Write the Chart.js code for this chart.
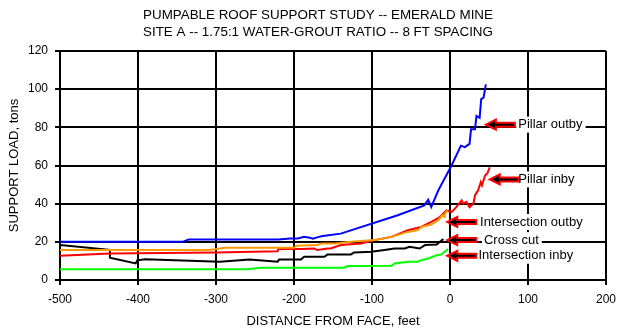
<!DOCTYPE html>
<html>
<head>
<meta charset="utf-8">
<script src="https://cdn.jsdelivr.net/npm/chart.js@4"></script>
<style>
  html, body { margin: 0; padding: 0; background: #fff; }
  #wrap { width: 618px; height: 331px; }
</style>
</head>
<body>
<div id="wrap"><canvas id="chart" width="618" height="331"></canvas></div>
<script>
// distance from face (ft) and support load (tons) for each gauge
const pillarOutbyDist = [-500, -343, -335, -220, -205, -195, -187, -180, -176, -168, -163, -140, -67, -33, -28, -24, -15, 2, 14, 19, 25, 27, 32, 34, 38, 40, 43, 46];
const pillarOutbyLoad = [20, 20, 21.2, 21.2, 21.8, 21.8, 22.6, 22.2, 21.7, 22.6, 23.1, 24.3, 33.9, 39.1, 42, 38.3, 47, 60, 70.4, 69.6, 71.3, 79, 79, 86, 85, 94.8, 95.6, 102.5];

const pillarInbyDist = [-500, -436, -300, -221, -220, -190, -174, -170, -157, -153, -140, -114, -97, -75, -54, -37, -24, -13, -4.5, 2, 8, 15, 17, 21, 25, 30, 32, 36, 39.5, 41, 45, 48, 51];
const pillarInbyLoad = [12.7, 13.9, 14.4, 15.1, 16.2, 16.2, 16.5, 15.7, 16.5, 16.5, 18.3, 19.1, 20.9, 22.6, 26.1, 27.8, 30.4, 33, 36.5, 35.6, 38.2, 41.7, 40, 40.9, 38.2, 40, 44.3, 47, 51.3, 49.6, 54.8, 56, 59];

const isecOutbyDist = [-500, -309, -288, -200, -197, -170, -165, -148, -127, -97, -75, -54, -41, -37, -24, -15, -10, -7.5, -6.7, -3];
const isecOutbyLoad = [15.7, 15.7, 16.9, 16.9, 18, 18.3, 19.1, 19.1, 20, 20.9, 22.6, 25.2, 26.1, 27.8, 29, 31.3, 33.9, 33, 34.8, 36.5];

const crossCutDist = [-500, -436, -436, -403, -401, -391, -295, -257, -221, -219, -191, -187, -161, -157, -127, -123, -101, -84, -71, -58, -52, -39, -32, -17, -13, -8.5];
const crossCutLoad = [18.3, 15.8, 11.7, 8.7, 10.3, 10.9, 9.6, 10.8, 9.6, 10.8, 10.8, 12.2, 12.2, 13.4, 13.4, 14.4, 14.8, 15.7, 16.5, 16.5, 17.4, 16.5, 18.3, 18.6, 20, 21.4];

const isecInbyDist = [-500, -260, -243, -136, -131, -75, -71, -54, -41, -37, -28, -22, -17, -11, -7, -2.5];
const isecInbyLoad = [5.6, 5.6, 6.4, 6.4, 7.3, 7.5, 8.7, 9.6, 9.6, 10.4, 11.3, 12.2, 13, 13.4, 14.8, 16.2];

// callout labels: arrow tip (x, y) and where the text starts (x)
const calloutText = ['Pillar outby', 'Pillar inby', 'Intersection outby', 'Cross cut', 'Intersection inby'];
const calloutTipX = [46, 51, -3.5, -3.5, -3.5];
const calloutTipY = [81.4, 52.7, 30.4, 20.9, 12.7];
const calloutTextX = [87.5, 87.5, 38.5, 43.5, 36.5];

const xTicks = [-500, -400, -300, -200, -100, 0, 100, 200];
const yTicks = [0, 20, 40, 60, 80, 100, 120];

const FONT = "'Liberation Sans', Arial, sans-serif";

const pairs = (xs, ys) => xs.map((x, i) => ({ x, y: ys[i] }));

const line = (label, xs, ys, color) => ({
  label,
  data: pairs(xs, ys),
  borderColor: color,
  backgroundColor: color,
  borderWidth: 2,
  pointRadius: 0,
  tension: 0,
  fill: false,
});

// title drawn by hand so it can sit a little left of the plot centre like the original
const titlePlugin = {
  id: 'twoLineTitle',
  afterDraw(chart) {
    const ctx = chart.ctx;
    ctx.save();
    ctx.fillStyle = '#000';
    ctx.font = '13.4px ' + FONT;
    ctx.textAlign = 'center';
    ctx.textBaseline = 'middle';
    ctx.fillText('PUMPABLE ROOF SUPPORT STUDY -- EMERALD MINE', 318, 15);
    ctx.fillText('SITE A -- 1.75:1 WATER-GROUT RATIO -- 8 FT SPACING', 318, 32);
    ctx.restore();
  },
};

// red-outlined black arrows with white-boxed labels
const calloutPlugin = {
  id: 'callouts',
  afterDatasetsDraw(chart) {
    const { ctx, scales: { x, y } } = chart;
    ctx.save();
    ctx.font = '13px ' + FONT;
    ctx.textBaseline = 'middle';
    calloutText.forEach((txt, i) => {
      const tx = x.getPixelForValue(calloutTipX[i]);
      const ty = y.getPixelForValue(calloutTipY[i]);
      const lx = x.getPixelForValue(calloutTextX[i]);
      const w = ctx.measureText(txt).width;

      ctx.fillStyle = '#fff';
      ctx.fillRect(lx - 2, ty - 8, w + 5, 16);

      ctx.beginPath();
      ctx.moveTo(tx, ty);
      ctx.lineTo(tx + 10, ty - 5);
      ctx.lineTo(tx + 10, ty - 2);
      ctx.lineTo(tx + 29, ty - 2);
      ctx.lineTo(tx + 29, ty + 2);
      ctx.lineTo(tx + 10, ty + 2);
      ctx.lineTo(tx + 10, ty + 5);
      ctx.closePath();
      ctx.fillStyle = '#000';
      ctx.fill();
      ctx.strokeStyle = '#ff0000';
      ctx.lineWidth = 2;
      ctx.lineJoin = 'miter';
      ctx.stroke();

      ctx.fillStyle = '#000';
      ctx.fillText(txt, lx, ty);
    });
    ctx.restore();
  },
};

new Chart(document.getElementById('chart'), {
  type: 'line',
  data: {
    datasets: [
      line('Pillar outby', pillarOutbyDist, pillarOutbyLoad, '#0000ff'),
      line('Intersection outby', isecOutbyDist, isecOutbyLoad, '#ff9900'),
      line('Pillar inby', pillarInbyDist, pillarInbyLoad, '#ff0000'),
      line('Cross cut', crossCutDist, crossCutLoad, '#000000'),
      line('Intersection inby', isecInbyDist, isecInbyLoad, '#00ff00'),
    ],
  },
  options: {
    responsive: false,
    animation: false,
    layout: { padding: { top: 51, right: 12, bottom: 0, left: 0 } },
    plugins: {
      legend: { display: false },
      title: { display: false },
      tooltip: { enabled: false },
    },
    scales: {
      x: {
        type: 'linear',
        min: -500,
        max: 200,
        afterBuildTicks: (s) => { s.ticks = xTicks.map((v) => ({ value: v })); },
        afterFit: (s) => { s.height = 51; s.paddingLeft = 0; s.paddingRight = 0; },
        grid: { color: '#000', lineWidth: 2, tickLength: 5 },
        border: { color: '#000', width: 2 },
        ticks: { color: '#000', font: { family: FONT, size: 12 }, padding: 7, maxRotation: 0 },
        title: {
          display: true,
          text: 'DISTANCE FROM FACE, feet',
          color: '#000',
          font: { family: FONT, size: 13 },
          padding: { top: 0, bottom: 2 },
        },
      },
      y: {
        min: 0,
        max: 120,
        afterBuildTicks: (s) => { s.ticks = yTicks.map((v) => ({ value: v })); },
        afterFit: (s) => { s.width = 60; s.paddingTop = 0; s.paddingBottom = 0; },
        grid: { color: '#000', lineWidth: 2, tickLength: 5 },
        border: { color: '#000', width: 2 },
        ticks: { color: '#000', font: { family: FONT, size: 12 }, padding: 7 },
        title: {
          display: true,
          text: 'SUPPORT LOAD, tons',
          color: '#000',
          font: { family: FONT, size: 13 },
          padding: { top: 7, bottom: 0 },
        },
      },
    },
  },
  plugins: [titlePlugin, calloutPlugin],
});
</script>
</body>
</html>
